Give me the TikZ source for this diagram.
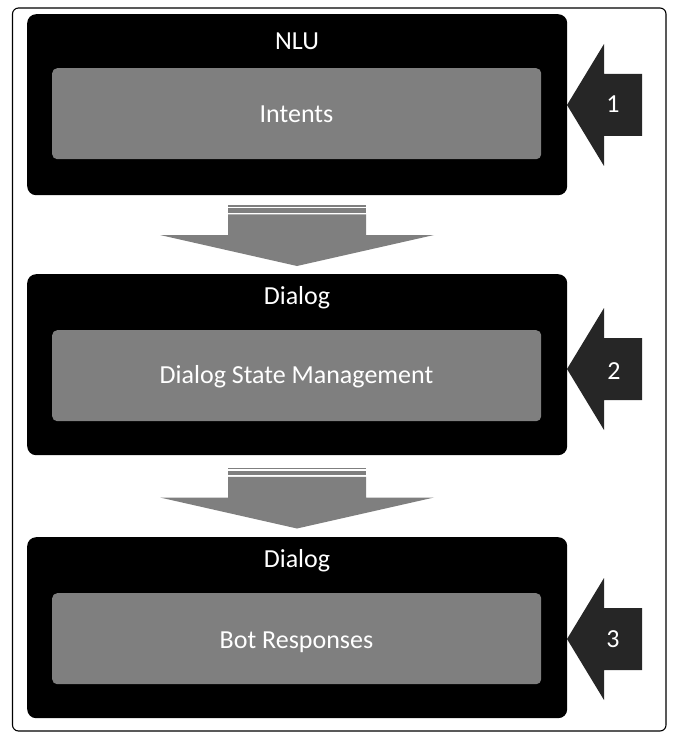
\documentclass[tikz,border=0pt]{standalone}
\usepackage{fontspec}
\setmainfont{Carlito}
\definecolor{boxgrey}{HTML}{7F7F7F}
\definecolor{arrowdark}{HTML}{262626}
\begin{document}
\begin{tikzpicture}[x=1pt,y=-1pt,
  panel/.style={fill=black, rounded corners=9pt, minimum width=540pt, minimum height=181pt, inner sep=0pt, anchor=north west},
  inner/.style={fill=boxgrey, rounded corners=5pt, minimum width=489pt, minimum height=91pt, inner sep=0pt, anchor=north west},
  lbl/.style={text=white, font=\fontsize{26}{30}\selectfont, anchor=base, inner sep=0pt},
  downarr/.pic={
    \fill[boxgrey] (-69,0) rectangle (69,1.7);
    \fill[boxgrey] (-69,3.3) rectangle (69,7.7);
    \fill[boxgrey] (-69,9.3) -- (69,9.3) -- (69,30) -- (137,30) -- (0,61) -- (-137,30) -- (-69,30) -- cycle;
  },
  sidearr/.pic={
    \fill[arrowdark] (0,0) -- (37,-61) -- (37,-31) -- (75,-31) -- (75,31) -- (37,31) -- (37,61) -- cycle;
  }
]
\useasboundingbox (0,0) rectangle (672,738);
\draw[line width=1.1pt, rounded corners=6pt] (12.5,8) rectangle (666,731);

\node[panel] (p1) at (27,14) {};
\node[panel] (p2) at (27,274) {};
\node[panel] (p3) at (27,537) {};

\node[inner] (g1) at (52,68) {};
\node[inner] (g2) at (52,330) {};
\node[inner] (g3) at (52,593) {};

\node[lbl] (t1) at (297,50) {NLU};
\node[lbl] (t2) at (297,304) {Dialog};
\node[lbl] (t3) at (297,567.5) {Dialog};

\node[lbl] (s1) at (296.5,122.3) {Intents};
\node[lbl] (s2) at (296.5,383.5) {Dialog State Management};
\node[lbl] (s3) at (296.5,648) {Bot Responses};

\pic at (297,205) {downarr};
\pic at (297,467.5) {downarr};

\pic at (567,105) {sidearr};
\pic at (567,369) {sidearr};
\pic at (567,639) {sidearr};

\node[lbl] (n1) at (613,113) {1};
\node[lbl] (n2) at (614,379) {2};
\node[lbl] (n3) at (613,647) {3};
\end{tikzpicture}
\end{document}
